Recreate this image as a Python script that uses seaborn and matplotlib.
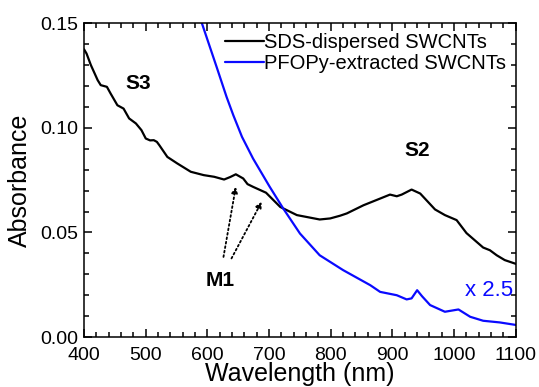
import numpy as np
import pandas as pd
import matplotlib
matplotlib.use("Agg")
import matplotlib.pyplot as plt
import seaborn as sns
from matplotlib.ticker import MultipleLocator, FormatStrFormatter

# SDS-dispersed SWCNTs (black)
sds_nm = [400, 404, 411, 422, 427, 437, 443, 454, 464, 473, 484, 493, 500, 507, 513, 518,
          522, 535, 551, 573, 594, 611, 627, 637, 646, 658, 665, 674, 686, 695, 718, 745,
          782, 799, 815, 826, 853, 880, 896, 907, 915, 931, 945, 969, 985, 1004, 1020,
          1047, 1058, 1069, 1082, 1100]
sds_abs = [0.1375, 0.1355, 0.1300, 0.1228, 0.1204, 0.1196, 0.1164, 0.1108, 0.1092, 0.1045,
           0.1021, 0.0989, 0.0949, 0.0940, 0.0941, 0.0933, 0.0917, 0.0861, 0.0830, 0.0790,
           0.0774, 0.0766, 0.0753, 0.0765, 0.0778, 0.0758, 0.0731, 0.0718, 0.0702, 0.0690,
           0.0622, 0.0583, 0.0562, 0.0567, 0.0580, 0.0591, 0.0630, 0.0662, 0.0681, 0.0673,
           0.0681, 0.0705, 0.0686, 0.0610, 0.0583, 0.0559, 0.0497, 0.0428, 0.0415, 0.0391,
           0.0368, 0.0350]

# PFOPy-extracted SWCNTs (blue, x 2.5)
pfo_nm = [570, 591, 615, 631, 642, 656, 674, 701, 723, 750, 782, 820, 864, 880, 907, 923,
          931, 940, 948, 961, 985, 1007, 1026, 1047, 1074, 1100]
pfo_abs = [0.170, 0.150, 0.129, 0.1148, 0.1060, 0.0957, 0.0853, 0.0718, 0.0614, 0.0495,
           0.0391, 0.0320, 0.0248, 0.0216, 0.0200, 0.0180, 0.0185, 0.0224, 0.0195, 0.0153,
           0.0121, 0.0132, 0.0097, 0.0078, 0.0070, 0.0058]

series_labels = ["SDS-dispersed SWCNTs", "PFOPy-extracted SWCNTs"]
series_colors = ["black", "#0a0aff"]

sns.set_style("ticks")
plt.rcParams["font.family"] = ["Liberation Sans", "DejaVu Sans"]
plt.rcParams["text.color"] = "black"
plt.rcParams["axes.labelcolor"] = "black"

fig = plt.figure(figsize=(5.39, 3.87), dpi=100)
ax = fig.add_axes([0.156, 0.129, 0.801, 0.811])

df1 = pd.DataFrame({"nm": sds_nm, "abs": sds_abs})
df2 = pd.DataFrame({"nm": pfo_nm, "abs": pfo_abs})
sns.lineplot(data=df1, x="nm", y="abs", color=series_colors[0], lw=1.6,
             label=series_labels[0], ax=ax)
sns.lineplot(data=df2, x="nm", y="abs", color=series_colors[1], lw=1.6,
             label=series_labels[1], ax=ax)

ax.set_xlim(400, 1100)
ax.set_ylim(0, 0.15)
ax.xaxis.set_major_locator(MultipleLocator(100))
ax.xaxis.set_minor_locator(MultipleLocator(20))
ax.yaxis.set_major_locator(MultipleLocator(0.05))
ax.yaxis.set_minor_locator(MultipleLocator(0.01))
ax.yaxis.set_major_formatter(FormatStrFormatter("%.2f"))
ax.tick_params(which="both", direction="in", top=True, right=True, bottom=True, left=True,
               labelsize=14, width=1.1, color="black", labelcolor="black")
ax.tick_params(which="major", length=6)
ax.tick_params(which="minor", length=3.5)
ax.tick_params(axis="x", which="major", pad=7)
ax.tick_params(axis="y", which="major", pad=4)
for s in ax.spines.values():
    s.set_linewidth(1.1)
    s.set_color("black")

ax.set_xlabel("Wavelength (nm)", fontsize=18, labelpad=-1)
ax.set_ylabel("Absorbance", fontsize=18, labelpad=6)

leg = ax.legend(loc="upper right", frameon=False, fontsize=14.5, handlelength=1.9,
                handletextpad=0.0, borderaxespad=0.1, labelspacing=0.1)
for t in leg.get_texts():
    t.set_color("black")

ax.text(487, 0.1213, "S3", fontsize=15, fontweight="bold", ha="center", va="center")
ax.text(940, 0.0893, "S2", fontsize=15, fontweight="bold", ha="center", va="center")
ax.text(620, 0.0272, "M1", fontsize=15, fontweight="bold", ha="center", va="center")
ax.text(1096, 0.0224, "x 2.5", fontsize=16, color=series_colors[1], ha="right", va="center")

arrow = dict(arrowstyle="-|>", linestyle=(0, (1, 1.5)), color="black", lw=1.3,
             mutation_scale=9, shrinkA=0, shrinkB=0)
ax.annotate("", xy=(646, 0.0718), xytext=(626, 0.0383), arrowprops=arrow)
ax.annotate("", xy=(688, 0.0647), xytext=(639, 0.0376), arrowprops=arrow)

fig.savefig("out.png", dpi=100, facecolor="white")
